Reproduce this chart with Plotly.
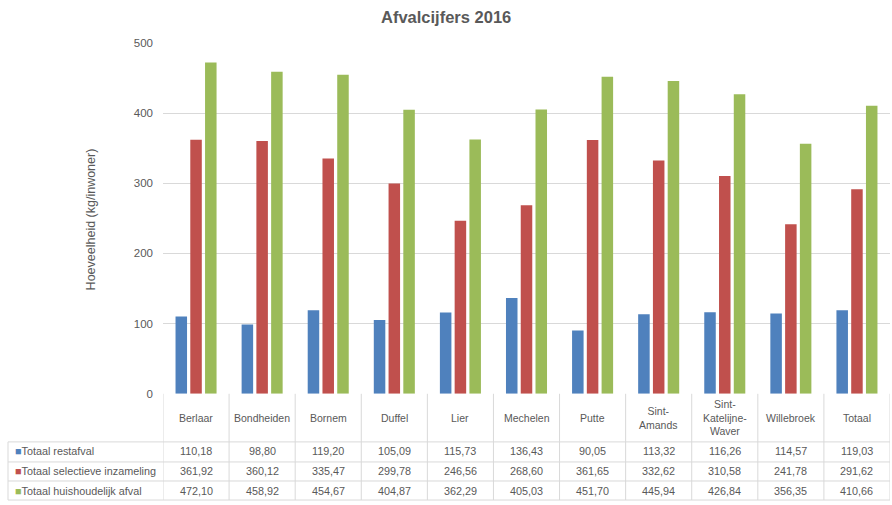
import plotly.graph_objects as go

categories = ["Berlaar", "Bondheiden", "Bornem", "Duffel", "Lier", "Mechelen", "Putte",
              "Sint-Amands", "Sint-Katelijne-Waver", "Willebroek", "Totaal"]
header_labels = ["Berlaar", "Bondheiden", "Bornem", "Duffel", "Lier", "Mechelen", "Putte",
                 "Sint-<br>Amands", "Sint-<br>Katelijne-<br>Waver", "Willebroek", "Totaal"]
series_names = ["Totaal restafval", "Totaal selectieve inzameling", "Totaal huishoudelijk afval"]
restafval = [110.18, 98.80, 119.20, 105.09, 115.73, 136.43, 90.05, 113.32, 116.26, 114.57, 119.03]
selectief = [361.92, 360.12, 335.47, 299.78, 246.56, 268.60, 361.65, 332.62, 310.58, 241.78, 291.62]
huishoudelijk = [472.10, 458.92, 454.67, 404.87, 362.29, 405.03, 451.70, 445.94, 426.84, 356.35, 410.66]
colors = ["#4F81BD", "#C0504D", "#9BBB59"]
yticks = [0, 100, 200, 300, 400, 500]

W, H = 892, 505
def py(pix):
    p = (pix - 6.1) / 0.974
    return (H - p) / H
def px(pix):
    return pix / W

TXT = "#595959"
LINE = "#D9D9D9"
FONT = "Liberation Sans"

fig = go.Figure()
all_series = [restafval, selectief, huishoudelijk]
for name, vals, c in zip(series_names, all_series, colors):
    fig.add_trace(go.Bar(x=categories, y=vals, name=name, marker_color=c,
                         marker_line_width=0, showlegend=False))

annotations = []
shapes = []

annotations.append(dict(text="<b>Afvalcijfers 2016</b>", x=px(446), y=py(17), xref="paper", yref="paper",
                        showarrow=False, font=dict(size=16.5, color=TXT, family=FONT),
                        xanchor="center", yanchor="middle"))
annotations.append(dict(text="Hoeveelheid (kg/inwoner)", x=px(91), y=py(219), xref="paper", yref="paper",
                        showarrow=False, textangle=-90, font=dict(size=12.5, color=TXT, family=FONT),
                        xanchor="center", yanchor="middle"))

for cat, lab in zip(categories, header_labels):
    annotations.append(dict(text=lab, x=cat, y=py(417), xref="x", yref="paper", showarrow=False,
                            font=dict(size=10.5, color=TXT, family=FONT), xanchor="center",
                            yanchor="middle", align="center"))

row_y = [450.5, 470, 489.5]
for r, (name, vals, c) in enumerate(zip(series_names, all_series, colors)):
    annotations.append(dict(text=f"<span style='color:{c}'>■</span>{name}", x=px(13), y=py(row_y[r]),
                            xref="paper", yref="paper", showarrow=False,
                            font=dict(size=10.8, color=TXT, family=FONT), xanchor="left", yanchor="middle"))
    for cat, v in zip(categories, vals):
        annotations.append(dict(text=f"{v:.2f}".replace(".", ","), x=cat, y=py(row_y[r]),
                                xref="x", yref="paper", showarrow=False,
                                font=dict(size=10.8, color=TXT, family=FONT),
                                xanchor="center", yanchor="middle"))

for i in range(len(categories) + 1):
    shapes.append(dict(type="line", xref="x", yref="paper", x0=i - 0.5, x1=i - 0.5,
                       y0=py(393), y1=py(499), line=dict(color=LINE, width=1)))
for yy in [441, 461, 480, 499]:
    shapes.append(dict(type="line", xref="paper", yref="paper", x0=px(8), x1=px(890),
                       y0=py(yy), y1=py(yy), line=dict(color=LINE, width=1)))
shapes.append(dict(type="line", xref="paper", yref="paper", x0=px(8), x1=px(8),
                   y0=py(441), y1=py(499), line=dict(color=LINE, width=1)))

fig.update_layout(
    width=W, height=H,
    margin=dict(l=0, r=0, t=0, b=0),
    paper_bgcolor="white", plot_bgcolor="white",
    barmode="group", bargap=0.33, bargroupgap=0.22,
    font=dict(family=FONT, color=TXT, size=11),
    xaxis=dict(domain=[px(163), px(890)], showticklabels=False, showgrid=False,
               range=[-0.5, len(categories) - 0.5], showline=False, zeroline=False),
    yaxis=dict(domain=[py(393), py(43)], range=[0, 500], tickvals=yticks,
               showgrid=True, gridcolor=LINE, gridwidth=1, zeroline=False, showline=False,
               ticks="", tickfont=dict(size=11.5, color=TXT, family=FONT), ticklabelstandoff=9),
    annotations=annotations,
    shapes=shapes,
)

fig.write_html("out.html")
